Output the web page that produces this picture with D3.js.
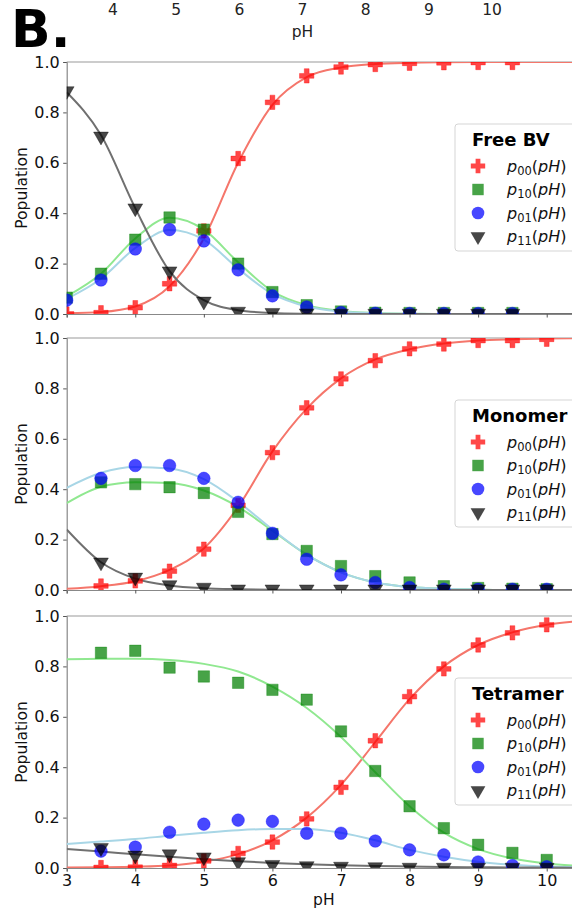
<!DOCTYPE html>
<html>
<head>
<meta charset="utf-8">
<script src="https://cdn.jsdelivr.net/npm/d3@7"></script>
<style>
  body { margin: 0; background: #fff; }
  text { font-family: "DejaVu Sans", sans-serif; }
</style>
</head>
<body>
<div id="chart"></div>
<script>
// measured pH points and fit samples
const phFree = [3, 3.5, 4, 4.5, 5, 5.5, 6, 6.5, 7, 7.5, 8, 8.5, 9, 9.5];
const phBound = [3.5, 4, 4.5, 5, 5.5, 6, 6.5, 7, 7.5, 8, 8.5, 9, 9.5, 10];
const phFit = [3, 3.5, 4, 4.5, 5, 5.5, 6, 6.5, 7, 7.5, 8, 8.5, 9, 9.5, 10, 10.5];
const topTicks = [4, 5, 6, 7, 8, 9, 10];
const yTicks = [0, 0.2, 0.4, 0.6, 0.8, 1.0];
const panelNames = ["Free BV", "Monomer", "Tetramer"];

// Free BV
const freeP00 = [0.0, 0.005, 0.025, 0.12, 0.33, 0.617, 0.84, 0.945, 0.98, 0.99, 0.995, 0.997, 0.998, 0.998];
const freeP10 = [0.065, 0.16, 0.295, 0.383, 0.335, 0.2, 0.087, 0.035, 0.01, 0.005, 0.004, 0.004, 0.004, 0.004];
const freeP01 = [0.055, 0.135, 0.258, 0.335, 0.29, 0.175, 0.072, 0.028, 0.006, 0.003, 0.002, 0.002, 0.002, 0.002];
const freeP11 = [0.885, 0.705, 0.42, 0.17, 0.05, 0.01, 0.005, 0.003, 0.002, 0.002, 0.002, 0.002, 0.002, 0.002];
const freeFit00 = [0.003, 0.008, 0.03, 0.11, 0.3, 0.6, 0.83, 0.94, 0.978, 0.992, 0.997, 0.999, 1, 1, 1, 1];
const freeFit10 = [0.07, 0.16, 0.3, 0.382, 0.335, 0.205, 0.09, 0.035, 0.012, 0.004, 0.001, 0, 0, 0, 0, 0];
const freeFit01 = [0.06, 0.14, 0.262, 0.333, 0.295, 0.18, 0.08, 0.03, 0.01, 0.003, 0.001, 0, 0, 0, 0, 0];
const freeFit11 = [0.88, 0.71, 0.42, 0.17, 0.055, 0.015, 0.004, 0.001, 0, 0, 0, 0, 0, 0, 0, 0];

// Monomer
const monoP00 = [0.016, 0.036, 0.075, 0.162, 0.336, 0.545, 0.723, 0.838, 0.91, 0.957, 0.976, 0.99, 0.99, 0.995];
const monoP10 = [0.427, 0.42, 0.408, 0.385, 0.31, 0.222, 0.155, 0.095, 0.055, 0.03, 0.015, 0.008, 0.005, 0.003];
const monoP01 = [0.443, 0.494, 0.494, 0.443, 0.348, 0.225, 0.122, 0.06, 0.03, 0.01, 0.003, 0.003, 0.003, 0.003];
const monoP11 = [0.11, 0.05, 0.02, 0.01, 0.003, 0.003, 0.003, 0.003, 0.003, 0.003, 0.003, 0.003, 0.003, 0.003];
const monoFit00 = [0.005, 0.015, 0.035, 0.08, 0.165, 0.33, 0.55, 0.72, 0.84, 0.915, 0.955, 0.978, 0.99, 0.995, 0.998, 1];
const monoFit10 = [0.345, 0.41, 0.428, 0.425, 0.395, 0.33, 0.235, 0.14, 0.07, 0.03, 0.012, 0.005, 0.002, 0, 0, 0];
const monoFit01 = [0.405, 0.465, 0.488, 0.482, 0.44, 0.35, 0.24, 0.14, 0.07, 0.03, 0.012, 0.005, 0.002, 0, 0, 0];
const monoFit11 = [0.24, 0.11, 0.045, 0.018, 0.007, 0.003, 0.001, 0, 0, 0, 0, 0, 0, 0, 0, 0];

// Tetramer
const tetP00 = [0.002, 0.003, 0.01, 0.028, 0.058, 0.103, 0.195, 0.32, 0.505, 0.68, 0.79, 0.885, 0.933, 0.965];
const tetP10 = [0.854, 0.862, 0.795, 0.76, 0.735, 0.707, 0.668, 0.542, 0.385, 0.245, 0.158, 0.092, 0.06, 0.032];
const tetP01 = [0.067, 0.083, 0.142, 0.174, 0.19, 0.185, 0.138, 0.138, 0.107, 0.072, 0.052, 0.024, 0.01, 0.005];
const tetP11 = [0.08, 0.05, 0.055, 0.043, 0.024, 0.013, 0.008, 0.006, 0.004, 0.002, 0.002, 0.002, 0.002, 0.002];
const tetFit00 = [0.002, 0.003, 0.005, 0.01, 0.025, 0.055, 0.11, 0.2, 0.33, 0.5, 0.67, 0.8, 0.885, 0.935, 0.965, 0.98];
const tetFit10 = [0.828, 0.83, 0.83, 0.825, 0.81, 0.78, 0.72, 0.635, 0.52, 0.38, 0.245, 0.14, 0.075, 0.038, 0.018, 0.008];
const tetFit01 = [0.095, 0.105, 0.115, 0.128, 0.14, 0.15, 0.155, 0.155, 0.14, 0.11, 0.072, 0.045, 0.025, 0.013, 0.006, 0.003];
const tetFit11 = [0.075, 0.065, 0.055, 0.045, 0.035, 0.027, 0.02, 0.015, 0.011, 0.008, 0.006, 0.004, 0.003, 0.002, 0.002, 0.001];

const width = 572, height = 908;
const left = 66.7, right = 581;
const panelTops = [62, 338, 616];
const panelH = 252;

const series = [
  { sub: "00", mark: "red", line: "#f5766b", symbol: d3.symbolCross, size: 115, rot: 0 },
  { sub: "10", mark: "green", line: "#90e890", symbol: d3.symbolSquare, size: 130, rot: 0 },
  { sub: "01", mark: "blue", line: "#a8d6e6", symbol: d3.symbolCircle, size: 125, rot: 0 },
  { sub: "11", mark: "black", line: "#707070", symbol: d3.symbolTriangle, size: 95, rot: 180 }
];

const panels = [
  { pts: phFree, data: [freeP00, freeP10, freeP01, freeP11], fits: [freeFit00, freeFit10, freeFit01, freeFit11] },
  { pts: phBound, data: [monoP00, monoP10, monoP01, monoP11], fits: [monoFit00, monoFit10, monoFit01, monoFit11] },
  { pts: phBound, data: [tetP00, tetP10, tetP01, tetP11], fits: [tetFit00, tetFit10, tetFit01, tetFit11] }
];

const svg = d3.select("#chart").append("svg")
    .attr("width", width)
    .attr("height", height);

const x = d3.scaleLinear().domain([3, 10.5]).range([left, right]);

// top axis left over from the panel above
const xTop = d3.scaleLinear().domain([4, 10]).range([113, 492]);
svg.append("g").selectAll("text")
    .data(topTicks)
    .join("text")
    .attr("x", d => xTop(d))
    .attr("y", 15)
    .attr("text-anchor", "middle")
    .attr("font-size", 15.5)
    .attr("fill", "#222")
    .text(d => d);
svg.append("text")
    .attr("x", xTop(7))
    .attr("y", 37)
    .attr("text-anchor", "middle")
    .attr("font-size", 15.5)
    .attr("fill", "#222")
    .text("pH");

svg.append("text")
    .attr("x", 11)
    .attr("y", 47)
    .attr("font-family", "Liberation Sans, Arial, sans-serif")
    .attr("font-weight", "bold")
    .attr("font-size", 52)
    .text("B.");

const line = d3.line().curve(d3.curveMonotoneX);

panels.forEach(function(p, i) {
  const top = panelTops[i];
  const y = d3.scaleLinear().domain([0, 1]).range([top + panelH, top]);
  const g = svg.append("g");

  g.append("clipPath").attr("id", "clip" + i)
    .append("rect")
    .attr("x", left).attr("y", top)
    .attr("width", right - left).attr("height", panelH);

  // axes
  const xAxis = d3.axisBottom(x).tickValues(d3.range(3, 11)).tickSize(3.5).tickPadding(3);
  if (i < 2) xAxis.tickFormat("");
  const xa = g.append("g")
      .attr("transform", "translate(0," + (top + panelH) + ")")
      .call(xAxis);
  xa.selectAll("text").attr("font-size", 16).attr("fill", "#111").attr("font-family", "DejaVu Sans");

  const yAxis = d3.axisLeft(y).tickValues(yTicks).tickFormat(d3.format(".1f")).tickSize(3.5).tickPadding(3.5);
  const ya = g.append("g")
      .attr("transform", "translate(" + left + ",0)")
      .call(yAxis);
  ya.selectAll("text").attr("font-size", 16).attr("fill", "#111").attr("font-family", "DejaVu Sans");

  [xa, ya].forEach(a => {
    a.select(".domain").attr("stroke", "#888").attr("stroke-width", 1.2);
    a.selectAll(".tick line").attr("stroke", "#555");
  });
  g.append("line")
      .attr("x1", left).attr("x2", right)
      .attr("y1", top).attr("y2", top)
      .attr("stroke", "#999").attr("stroke-width", 1.2);

  g.append("text")
      .attr("transform", "translate(27," + (top + panelH / 2) + ") rotate(-90)")
      .attr("text-anchor", "middle")
      .attr("font-size", 15.5)
      .attr("fill", "#111")
      .text("Population");

  const plot = g.append("g").attr("clip-path", "url(#clip" + i + ")");

  // fitted curves
  series.forEach(function(s, k) {
    plot.append("path")
        .datum(phFit.map((ph, j) => [x(ph), y(p.fits[k][j])]))
        .attr("d", line)
        .attr("fill", "none")
        .attr("stroke", s.line)
        .attr("stroke-width", 2);
  });

  // measured points
  series.forEach(function(s, k) {
    plot.append("g").selectAll("path")
        .data(p.pts.map((ph, j) => [ph, p.data[k][j]]))
        .join("path")
        .attr("transform", d => "translate(" + x(d[0]) + "," + y(d[1]) + ") rotate(" + s.rot + ")")
        .attr("d", d3.symbol(s.symbol, s.size))
        .attr("fill", s.mark)
        .attr("fill-opacity", 0.72)
        .attr("stroke", s.mark)
        .attr("stroke-opacity", 0.35)
        .attr("stroke-width", 1);
  });

  // legend, centre right
  const ly = top + panelH / 2 - 64;
  const lg = g.append("g").attr("transform", "translate(455," + ly + ")");
  lg.append("rect")
      .attr("width", 130).attr("height", 127)
      .attr("rx", 3)
      .attr("fill", "#fff").attr("fill-opacity", 0.85)
      .attr("stroke", "#d5d5d5");
  lg.append("text")
      .attr("x", 17).attr("y", 22)
      .attr("font-weight", "bold")
      .attr("font-size", 18)
      .text(panelNames[i]);
  series.forEach(function(s, k) {
    const ry = 42 + k * 23.5;
    lg.append("path")
        .attr("transform", "translate(23," + ry + ") rotate(" + s.rot + ")")
        .attr("d", d3.symbol(s.symbol, s.size))
        .attr("fill", s.mark)
        .attr("fill-opacity", 0.72);
    const t = lg.append("text")
        .attr("x", 52).attr("y", ry + 5.5)
        .attr("font-size", 16)
        .attr("fill", "#111");
    t.append("tspan").attr("font-style", "italic").text("p");
    t.append("tspan").attr("font-size", 11.5).attr("dy", 3).text(s.sub);
    t.append("tspan").attr("dy", -3).text("(");
    t.append("tspan").attr("font-style", "italic").text("pH");
    t.append("tspan").text(")");
  });

  if (i === 2) {
    g.append("text")
        .attr("x", x(6.75))
        .attr("y", top + panelH + 37)
        .attr("text-anchor", "middle")
        .attr("font-size", 15.5)
        .attr("fill", "#111")
        .text("pH");
  }
});
</script>
</body>
</html>
